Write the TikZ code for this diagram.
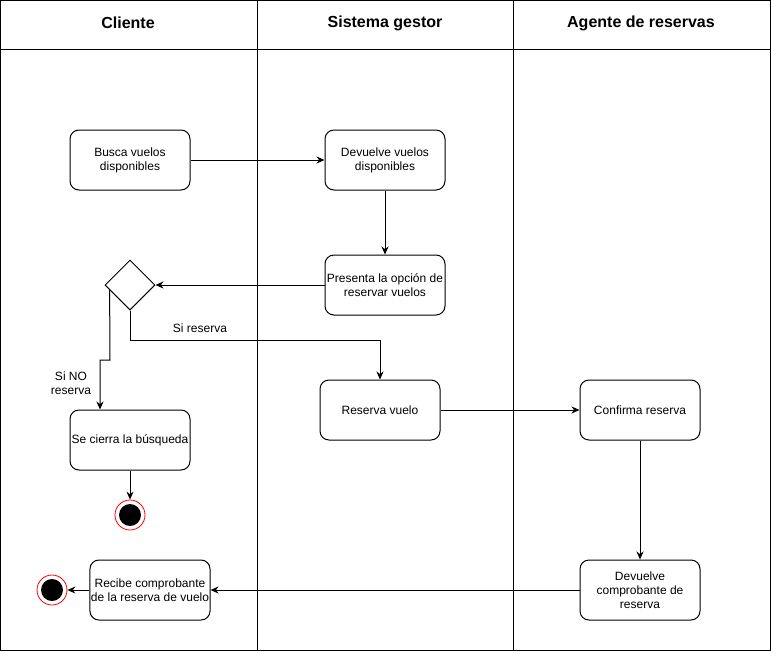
\documentclass[tikz,border=0pt]{standalone}
\usepackage{fontspec}
\setmainfont{Liberation Sans}
\usetikzlibrary{shapes.geometric,arrows.meta,calc}
\begin{document}
\begin{tikzpicture}[x=1pt,y=-1pt,
  line width=1pt,
  every node/.style={font=\fontsize{12}{14}\selectfont},
  action/.style={draw,rounded corners=9pt,minimum width=120pt,minimum height=60pt,
    inner sep=1pt,align=center,fill=white},
  decision/.style={draw,diamond,minimum width=50pt,minimum height=50pt,inner sep=0pt,fill=white},
  final/.style={circle,draw=red,line width=0.8pt,fill=white,minimum size=30pt,inner sep=0pt,
    path picture={\fill[black] (path picture bounding box.center) circle (11pt);}},
  header/.style={font=\fontsize{16}{19}\selectfont\bfseries},
  flow/.style={-{Stealth[length=8pt,width=7pt]},line width=1pt},
  lbl/.style={font=\fontsize{12}{14}\selectfont,align=center,fill=white,inner sep=1pt}]
\useasboundingbox (0,0) rectangle (771,651);
% swimlane frame
\draw (0.5,0.5) rectangle (770.5,650.5);
\draw (0.5,49.5) -- (770.5,49.5);
\draw (257.5,0.5) -- (257.5,650.5);
\draw (513.5,0.5) -- (513.5,650.5);
\node[header] (hc) at (128,23) {Cliente};
\node[header] (hs) at (385,23) {Sistema gestor};
\node[header] (ha) at (641,23) {Agente de reservas};
% activities
\node[action] (busca) at (130,160) {Busca vuelos\\disponibles};
\node[action] (devuelve) at (385,160) {Devuelve vuelos\\disponibles};
\node[action] (presenta) at (385,285) {Presenta la opción de\\reservar vuelos};
\node[decision] (dec) at (130,285) {};
\node[action] (reserva) at (380,410) {Reserva vuelo};
\node[action] (confirma) at (640,410) {Confirma reserva};
\node[action] (cierra) at (130,440) {Se cierra la búsqueda};
\node[final] (fin1) at (130,515) {};
\node[action] (comprob) at (640,590) {Devuelve\\comprobante de\\reserva};
\node[action] (recibe) at (150,590) {Recibe comprobante\\de la reserva de vuelo};
\node[final] (fin2) at (52,590) {};
% flows
\draw[flow] (busca) -- (devuelve);
\draw[flow] (devuelve) -- (presenta);
\draw[flow] (presenta) -- (dec);
\draw[flow] (dec.south) |- (380,340) -- (reserva.north);
\node[lbl] (lsi) at (200,328) {Si reserva};
\coordinate (decno) at ($(dec.west)!0.2!(dec.south)$);
\draw[flow] (decno) -- (110,360) -- (100,360) -- (cierra.north -| 100,0);
\node[lbl] (lno) at (71,383) {Si NO\\reserva};
\draw[flow] (cierra) -- (fin1);
\draw[flow] (reserva) -- (confirma);
\draw[flow] (confirma) -- (comprob);
\draw[flow] (comprob) -- (recibe);
\draw[flow] (recibe) -- (fin2);
\end{tikzpicture}
\end{document}
